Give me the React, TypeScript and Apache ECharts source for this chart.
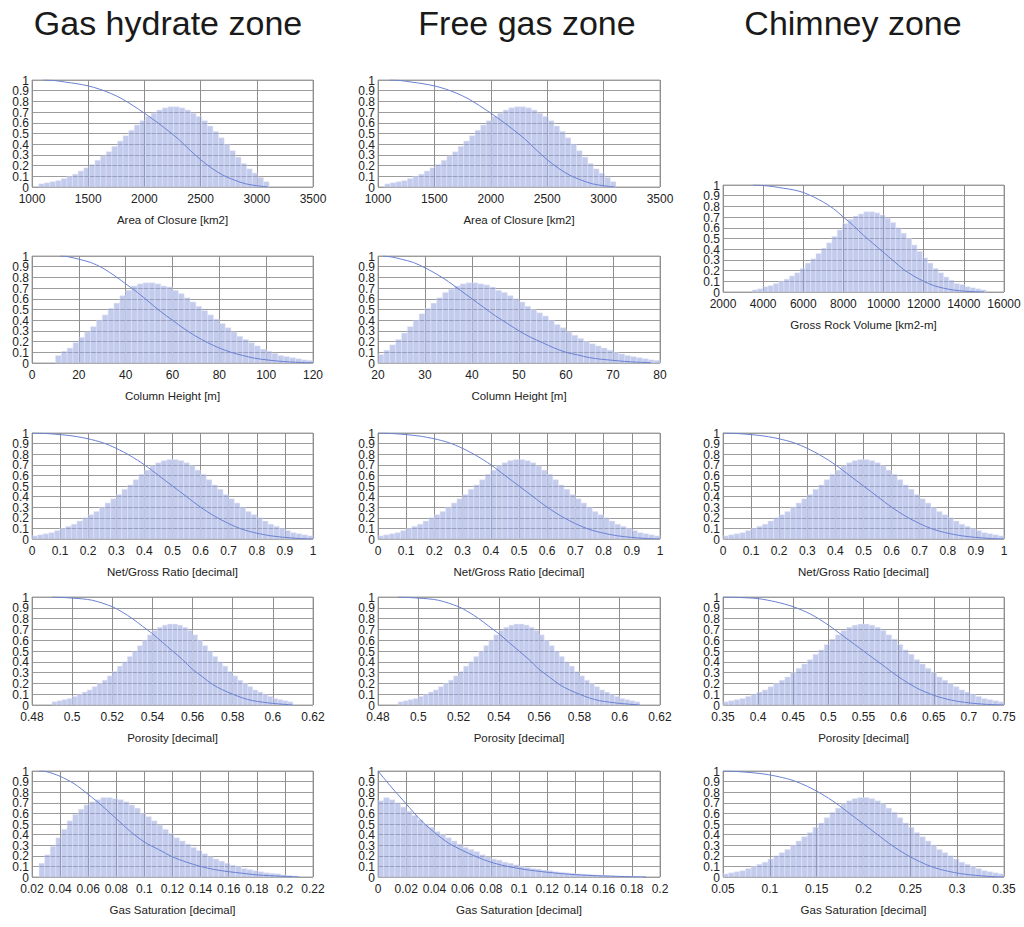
import React, { useEffect, useRef } from "react";
import * as echarts from "echarts";

// ---------- data ----------
const zoneTitles = ["Gas hydrate zone", "Free gas zone", "Chimney zone"];
const yTickValues = [0, 0.1, 0.2, 0.3, 0.4, 0.5, 0.6, 0.7, 0.8, 0.9, 1];
const yTickLabels = ["0", "0.1", "0.2", "0.3", "0.4", "0.5", "0.6", "0.7", "0.8", "0.9", "1"];

// Area of Closure [km2] (gas hydrate + free gas zones)
const areaBinStart = 1060;
const areaBinWidth = 50;
const areaHeights = [0.03, 0.04, 0.05, 0.06, 0.08, 0.10, 0.12, 0.15, 0.18, 0.21, 0.25, 0.29, 0.33, 0.38, 0.43, 0.48, 0.53, 0.58, 0.62, 0.66, 0.69, 0.72, 0.74, 0.75, 0.75, 0.74, 0.72, 0.69, 0.66, 0.62, 0.57, 0.52, 0.46, 0.40, 0.34, 0.28, 0.22, 0.17, 0.13, 0.09, 0.05];
const areaCurve = [[1100, 1.0], [1200, 0.995], [1300, 0.98], [1400, 0.965], [1500, 0.945], [1600, 0.915], [1700, 0.875], [1800, 0.825], [1900, 0.76], [2000, 0.69], [2100, 0.615], [2200, 0.535], [2300, 0.45], [2400, 0.35], [2500, 0.255], [2600, 0.175], [2700, 0.11], [2800, 0.065], [2900, 0.03], [3000, 0.012], [3100, 0.0]];

// Gross Rock Volume [km2-m] (chimney)
const grvBinStart = 3450;
const grvBinWidth = 265;
const grvHeights = [0.02, 0.03, 0.05, 0.06, 0.08, 0.10, 0.12, 0.15, 0.18, 0.22, 0.27, 0.31, 0.36, 0.41, 0.46, 0.52, 0.58, 0.64, 0.68, 0.71, 0.73, 0.75, 0.75, 0.74, 0.72, 0.69, 0.65, 0.60, 0.55, 0.50, 0.44, 0.38, 0.32, 0.27, 0.22, 0.18, 0.14, 0.11, 0.08, 0.07, 0.05, 0.04, 0.03, 0.02];
const grvCurve = [[3500, 1], [4000, 0.995], [4500, 0.985], [5000, 0.97], [5500, 0.955], [6000, 0.93], [6500, 0.89], [7000, 0.84], [7500, 0.78], [8000, 0.70], [8500, 0.62], [9000, 0.53], [9500, 0.45], [10000, 0.37], [10500, 0.29], [11000, 0.21], [11500, 0.15], [12000, 0.10], [12500, 0.06], [13000, 0.035], [13500, 0.018], [14000, 0.008], [14500, 0.003], [15000, 0.0]];

// Column Height [m] (gas hydrate)
const ghColBinStart = 10;
const ghColBinWidth = 2.5;
const ghColHeights = [0.07, 0.11, 0.14, 0.19, 0.24, 0.29, 0.34, 0.40, 0.45, 0.51, 0.56, 0.63, 0.68, 0.72, 0.74, 0.75, 0.75, 0.74, 0.72, 0.71, 0.68, 0.65, 0.61, 0.57, 0.53, 0.49, 0.45, 0.41, 0.37, 0.33, 0.29, 0.25, 0.22, 0.19, 0.16, 0.13, 0.11, 0.09, 0.07, 0.06, 0.05, 0.04, 0.03, 0.025];
const ghColCurve = [[12, 1], [15, 0.995], [20, 0.97], [25, 0.94], [30, 0.89], [35, 0.82], [40, 0.74], [45, 0.66], [50, 0.57], [55, 0.48], [60, 0.40], [65, 0.32], [70, 0.25], [75, 0.19], [80, 0.14], [85, 0.10], [90, 0.07], [95, 0.045], [100, 0.03], [105, 0.018], [110, 0.01], [115, 0.005], [120, 0.002]];

// Column Height [m] (free gas)
const fgColBinStart = 20;
const fgColBinWidth = 1.25;
const fgColHeights = [0.08, 0.12, 0.17, 0.22, 0.28, 0.34, 0.40, 0.46, 0.51, 0.56, 0.61, 0.66, 0.69, 0.72, 0.74, 0.75, 0.75, 0.74, 0.73, 0.71, 0.68, 0.66, 0.63, 0.60, 0.57, 0.53, 0.50, 0.47, 0.44, 0.40, 0.36, 0.33, 0.29, 0.26, 0.23, 0.20, 0.18, 0.16, 0.14, 0.12, 0.10, 0.085, 0.07, 0.06, 0.05, 0.04, 0.03, 0.025];
const fgColCurve = [[21, 1], [23, 0.99], [25, 0.97], [27.5, 0.94], [30, 0.89], [32.5, 0.83], [35, 0.76], [37.5, 0.68], [40, 0.60], [42.5, 0.52], [45, 0.44], [47.5, 0.37], [50, 0.30], [52.5, 0.24], [55, 0.19], [57.5, 0.14], [60, 0.10], [62.5, 0.075], [65, 0.05], [67.5, 0.035], [70, 0.025], [72.5, 0.015], [75, 0.008], [78, 0.003]];

// Net/Gross Ratio [decimal] (all three zones)
const ngBinStart = 0;
const ngBinWidth = 0.02;
const ngHeights = [0.03, 0.04, 0.05, 0.06, 0.08, 0.10, 0.12, 0.14, 0.17, 0.20, 0.23, 0.26, 0.30, 0.34, 0.38, 0.42, 0.47, 0.51, 0.56, 0.61, 0.65, 0.69, 0.72, 0.74, 0.75, 0.75, 0.74, 0.72, 0.69, 0.65, 0.61, 0.56, 0.51, 0.47, 0.42, 0.38, 0.34, 0.30, 0.26, 0.23, 0.20, 0.17, 0.14, 0.12, 0.10, 0.08, 0.06, 0.05, 0.04, 0.03];
const ngCurve = [[0, 1], [0.05, 0.995], [0.1, 0.985], [0.15, 0.97], [0.2, 0.945], [0.25, 0.91], [0.3, 0.855], [0.35, 0.785], [0.4, 0.70], [0.45, 0.60], [0.5, 0.50], [0.55, 0.40], [0.6, 0.30], [0.65, 0.215], [0.7, 0.145], [0.75, 0.09], [0.8, 0.055], [0.85, 0.03], [0.9, 0.015], [0.95, 0.005], [1, 0.0]];

// Porosity [decimal] (gas hydrate + free gas)
const porBinStart = 0.49;
const porBinWidth = 0.0025;
const porHeights = [0.03, 0.04, 0.05, 0.06, 0.08, 0.10, 0.12, 0.14, 0.17, 0.20, 0.23, 0.27, 0.31, 0.36, 0.40, 0.45, 0.50, 0.55, 0.60, 0.65, 0.69, 0.72, 0.74, 0.75, 0.75, 0.74, 0.72, 0.69, 0.65, 0.60, 0.55, 0.50, 0.45, 0.40, 0.36, 0.31, 0.27, 0.23, 0.20, 0.17, 0.14, 0.12, 0.10, 0.08, 0.06, 0.05, 0.04, 0.03];
const porCurve = [[0.49, 1], [0.5, 0.99], [0.51, 0.97], [0.52, 0.91], [0.525, 0.86], [0.53, 0.80], [0.535, 0.73], [0.54, 0.66], [0.545, 0.58], [0.55, 0.50], [0.555, 0.42], [0.56, 0.33], [0.565, 0.26], [0.57, 0.19], [0.575, 0.14], [0.58, 0.10], [0.585, 0.065], [0.59, 0.04], [0.6, 0.015], [0.61, 0.0]];

// Porosity [decimal] (chimney)
const chPorBinStart = 0.35;
const chPorBinWidth = 0.008;
const chPorHeights = [0.03, 0.04, 0.05, 0.06, 0.08, 0.10, 0.12, 0.14, 0.17, 0.20, 0.23, 0.26, 0.30, 0.34, 0.38, 0.42, 0.47, 0.51, 0.56, 0.61, 0.65, 0.69, 0.72, 0.74, 0.75, 0.75, 0.74, 0.72, 0.69, 0.65, 0.61, 0.56, 0.51, 0.47, 0.42, 0.38, 0.34, 0.30, 0.26, 0.23, 0.20, 0.17, 0.14, 0.12, 0.10, 0.08, 0.06, 0.05, 0.04, 0.03];
const chPorCurve = [[0.35, 1], [0.375, 0.995], [0.4, 0.985], [0.425, 0.955], [0.45, 0.91], [0.475, 0.84], [0.5, 0.74], [0.525, 0.62], [0.55, 0.50], [0.575, 0.38], [0.6, 0.26], [0.625, 0.16], [0.65, 0.09], [0.675, 0.045], [0.7, 0.02], [0.725, 0.006], [0.75, 0.0]];

// Gas Saturation [decimal] (gas hydrate)
const ghSatBinStart = 0.025;
const ghSatBinWidth = 0.004;
const ghSatHeights = [0.13, 0.21, 0.29, 0.37, 0.45, 0.53, 0.59, 0.64, 0.68, 0.71, 0.73, 0.75, 0.75, 0.74, 0.73, 0.71, 0.68, 0.65, 0.60, 0.57, 0.53, 0.49, 0.45, 0.41, 0.37, 0.34, 0.31, 0.28, 0.25, 0.22, 0.19, 0.17, 0.15, 0.13, 0.11, 0.10, 0.08, 0.07, 0.06, 0.05, 0.04, 0.035, 0.03, 0.02, 0.015, 0.01];
const ghSatCurve = [[0.025, 1], [0.03, 0.995], [0.04, 0.95], [0.05, 0.88], [0.06, 0.78], [0.07, 0.67], [0.08, 0.55], [0.09, 0.43], [0.1, 0.33], [0.11, 0.26], [0.12, 0.19], [0.13, 0.14], [0.14, 0.10], [0.15, 0.07], [0.16, 0.05], [0.17, 0.035], [0.18, 0.02], [0.19, 0.012], [0.2, 0.006], [0.21, 0.0]];

// Gas Saturation [decimal] (free gas)
const fgSatBinStart = 0;
const fgSatBinWidth = 0.004;
const fgSatHeights = [0.72, 0.75, 0.73, 0.70, 0.66, 0.62, 0.58, 0.54, 0.50, 0.47, 0.43, 0.40, 0.37, 0.34, 0.31, 0.28, 0.26, 0.24, 0.21, 0.19, 0.17, 0.16, 0.14, 0.13, 0.115, 0.10, 0.09, 0.08, 0.075, 0.065, 0.06, 0.05, 0.045, 0.04, 0.035, 0.03, 0.027, 0.024, 0.02, 0.017, 0.015, 0.012, 0.01, 0.008, 0.006, 0.005, 0.004];
const fgSatCurve = [[0, 1], [0.01, 0.84], [0.02, 0.69], [0.03, 0.54], [0.04, 0.42], [0.05, 0.32], [0.06, 0.25], [0.07, 0.19], [0.08, 0.14], [0.09, 0.105], [0.1, 0.08], [0.11, 0.06], [0.12, 0.045], [0.13, 0.032], [0.14, 0.022], [0.15, 0.015], [0.16, 0.01], [0.17, 0.006], [0.18, 0.003], [0.19, 0.0]];

// Gas Saturation [decimal] (chimney)
const chSatBinStart = 0.05;
const chSatBinWidth = 0.006;
const chSatHeights = [0.03, 0.04, 0.05, 0.06, 0.08, 0.10, 0.12, 0.14, 0.17, 0.20, 0.23, 0.26, 0.30, 0.34, 0.38, 0.42, 0.47, 0.51, 0.56, 0.61, 0.65, 0.69, 0.72, 0.74, 0.75, 0.75, 0.74, 0.72, 0.69, 0.65, 0.61, 0.56, 0.51, 0.47, 0.42, 0.38, 0.34, 0.30, 0.26, 0.23, 0.20, 0.17, 0.14, 0.12, 0.10, 0.08, 0.06, 0.05, 0.04, 0.03];
const chSatCurve = [[0.05, 1], [0.065, 0.995], [0.08, 0.985], [0.095, 0.97], [0.11, 0.945], [0.125, 0.91], [0.14, 0.855], [0.155, 0.785], [0.17, 0.70], [0.185, 0.60], [0.2, 0.50], [0.215, 0.40], [0.23, 0.30], [0.245, 0.215], [0.26, 0.145], [0.275, 0.09], [0.29, 0.055], [0.305, 0.03], [0.32, 0.015], [0.335, 0.005], [0.35, 0.0]];

// ---------- panel definitions ----------
type Panel = {
  col: number;
  slot: string;
  xMin: number;
  xMax: number;
  xStep: number;
  name: string;
  binStart: number;
  binWidth: number;
  heights: number[];
  curve: number[][];
};

const panels: Panel[] = [
  { col: 0, slot: "r1", xMin: 1000, xMax: 3500, xStep: 500, name: "Area of Closure [km2]", binStart: areaBinStart, binWidth: areaBinWidth, heights: areaHeights, curve: areaCurve },
  { col: 1, slot: "r1", xMin: 1000, xMax: 3500, xStep: 500, name: "Area of Closure [km2]", binStart: areaBinStart, binWidth: areaBinWidth, heights: areaHeights, curve: areaCurve },
  { col: 2, slot: "c1", xMin: 2000, xMax: 16000, xStep: 2000, name: "Gross Rock Volume [km2-m]", binStart: grvBinStart, binWidth: grvBinWidth, heights: grvHeights, curve: grvCurve },
  { col: 0, slot: "r2", xMin: 0, xMax: 120, xStep: 20, name: "Column Height [m]", binStart: ghColBinStart, binWidth: ghColBinWidth, heights: ghColHeights, curve: ghColCurve },
  { col: 1, slot: "r2", xMin: 20, xMax: 80, xStep: 10, name: "Column Height [m]", binStart: fgColBinStart, binWidth: fgColBinWidth, heights: fgColHeights, curve: fgColCurve },
  { col: 0, slot: "r3", xMin: 0, xMax: 1, xStep: 0.1, name: "Net/Gross Ratio [decimal]", binStart: ngBinStart, binWidth: ngBinWidth, heights: ngHeights, curve: ngCurve },
  { col: 1, slot: "r3", xMin: 0, xMax: 1, xStep: 0.1, name: "Net/Gross Ratio [decimal]", binStart: ngBinStart, binWidth: ngBinWidth, heights: ngHeights, curve: ngCurve },
  { col: 2, slot: "r3", xMin: 0, xMax: 1, xStep: 0.1, name: "Net/Gross Ratio [decimal]", binStart: ngBinStart, binWidth: ngBinWidth, heights: ngHeights, curve: ngCurve },
  { col: 0, slot: "r4", xMin: 0.48, xMax: 0.62, xStep: 0.02, name: "Porosity [decimal]", binStart: porBinStart, binWidth: porBinWidth, heights: porHeights, curve: porCurve },
  { col: 1, slot: "r4", xMin: 0.48, xMax: 0.62, xStep: 0.02, name: "Porosity [decimal]", binStart: porBinStart, binWidth: porBinWidth, heights: porHeights, curve: porCurve },
  { col: 2, slot: "r4", xMin: 0.35, xMax: 0.75, xStep: 0.05, name: "Porosity [decimal]", binStart: chPorBinStart, binWidth: chPorBinWidth, heights: chPorHeights, curve: chPorCurve },
  { col: 0, slot: "r5", xMin: 0.02, xMax: 0.22, xStep: 0.02, name: "Gas Saturation [decimal]", binStart: ghSatBinStart, binWidth: ghSatBinWidth, heights: ghSatHeights, curve: ghSatCurve },
  { col: 1, slot: "r5", xMin: 0, xMax: 0.2, xStep: 0.02, name: "Gas Saturation [decimal]", binStart: fgSatBinStart, binWidth: fgSatBinWidth, heights: fgSatHeights, curve: fgSatCurve },
  { col: 2, slot: "r5", xMin: 0.05, xMax: 0.35, xStep: 0.05, name: "Gas Saturation [decimal]", binStart: chSatBinStart, binWidth: chSatBinWidth, heights: chSatHeights, curve: chSatCurve },
];

// ---------- layout ----------
const colLeft = [32, 378, 723];
const colWidth = [281, 282, 281];
const colCenter = [168, 527, 853];
const slotTop: Record<string, number> = { r1: 80, c1: 185, r2: 256, r3: 433, r4: 597, r5: 771 };
const slotHeight: Record<string, number> = { r1: 107, c1: 107, r2: 107, r3: 106, r4: 108, r5: 106 };

const FONT = 'Arial, "Liberation Sans", Helvetica, sans-serif';
const TEXT = "#222222";
const BAR_FILL = "rgba(148,163,222,0.55)";
const BAR_EDGE = "rgba(235,236,248,0.7)";
const LINE = "#6a80d2";

const plain = (v: number) => String(parseFloat(Number(v).toPrecision(10)));

function buildOption() {
  const grid: any[] = [];
  const xAxis: any[] = [];
  const yAxis: any[] = [];
  const series: any[] = [];

  panels.forEach((p, i) => {
    grid.push({
      left: colLeft[p.col],
      top: slotTop[p.slot],
      width: colWidth[p.col],
      height: slotHeight[p.slot],
      show: true,
      borderColor: "#a6a6a6",
      borderWidth: 1,
      backgroundColor: "transparent",
      containLabel: false,
    });
    xAxis.push({
      type: "value",
      gridIndex: i,
      min: p.xMin,
      max: p.xMax,
      interval: p.xStep,
      name: p.name,
      nameLocation: "middle",
      nameGap: 27,
      nameTextStyle: { fontSize: 11.5, color: TEXT, fontFamily: FONT },
      axisLine: { show: false },
      axisTick: { show: false },
      axisLabel: {
        margin: 6,
        fontSize: 12,
        color: TEXT,
        fontFamily: FONT,
        showMinLabel: true,
        showMaxLabel: true,
        hideOverlap: false,
        formatter: plain,
      },
      splitLine: { show: true, lineStyle: { color: "#8e8e8e", width: 1 } },
    });
    yAxis.push({
      type: "value",
      gridIndex: i,
      min: yTickValues[0],
      max: yTickValues[yTickValues.length - 1],
      interval: yTickValues[1] - yTickValues[0],
      axisLine: { show: false },
      axisTick: { show: false },
      axisLabel: { show: false },
      splitLine: { show: true, lineStyle: { color: "#9c9c9c", width: 1 } },
    });
    const bins = p.heights.map((h, k) => [p.binStart + k * p.binWidth, p.binStart + (k + 1) * p.binWidth, h]);
    series.push({
      type: "custom",
      xAxisIndex: i,
      yAxisIndex: i,
      silent: true,
      z: 2,
      encode: { x: [0, 1], y: 2 },
      data: bins,
      renderItem: (params: any, api: any) => {
        const p0 = api.coord([api.value(0), api.value(2)]);
        const p1 = api.coord([api.value(1), 0]);
        return {
          type: "rect",
          shape: { x: p0[0], y: p0[1], width: p1[0] - p0[0], height: p1[1] - p0[1] },
          style: { fill: BAR_FILL, stroke: BAR_EDGE, lineWidth: 0.6 },
        };
      },
    });
    series.push({
      type: "line",
      xAxisIndex: i,
      yAxisIndex: i,
      silent: true,
      z: 3,
      data: p.curve,
      showSymbol: false,
      smooth: 0.3,
      lineStyle: { color: LINE, width: 1 },
    });
    // y tick labels, placed through the panel's own scales
    series.push({
      type: "custom",
      xAxisIndex: i,
      yAxisIndex: i,
      silent: true,
      clip: false,
      z: 4,
      encode: { x: 0, y: 1 },
      data: yTickValues.map((v, k) => [p.xMin, v, k]),
      renderItem: (params: any, api: any) => {
        const pt = api.coord([api.value(0), api.value(1)]);
        return {
          type: "text",
          x: pt[0] - 3,
          y: pt[1] + 0.5,
          style: {
            text: yTickLabels[api.value(2)],
            textAlign: "right",
            textVerticalAlign: "middle",
            fontSize: 12,
            fontFamily: FONT,
            fill: TEXT,
          },
        };
      },
    });
  });

  const graphic = zoneTitles.map((t, c) => ({
    type: "text",
    x: colCenter[c],
    y: 23,
    silent: true,
    style: {
      text: t,
      fontSize: 34,
      fontFamily: FONT,
      fill: "#1a1a1a",
      textAlign: "center",
      textVerticalAlign: "middle",
    },
  }));

  return { animation: false, backgroundColor: "#ffffff", grid, xAxis, yAxis, series, graphic };
}

export default function App() {
  const ref = useRef<HTMLDivElement>(null);
  useEffect(() => {
    if (!ref.current) return;
    const chart = echarts.init(ref.current, undefined, { renderer: "svg" });
    chart.setOption(buildOption());
    return () => chart.dispose();
  }, []);
  return (
    <div
      ref={ref}
      style={{ position: "fixed", left: 0, top: 0, width: 1024, height: 927, background: "#fff" }}
    />
  );
}
